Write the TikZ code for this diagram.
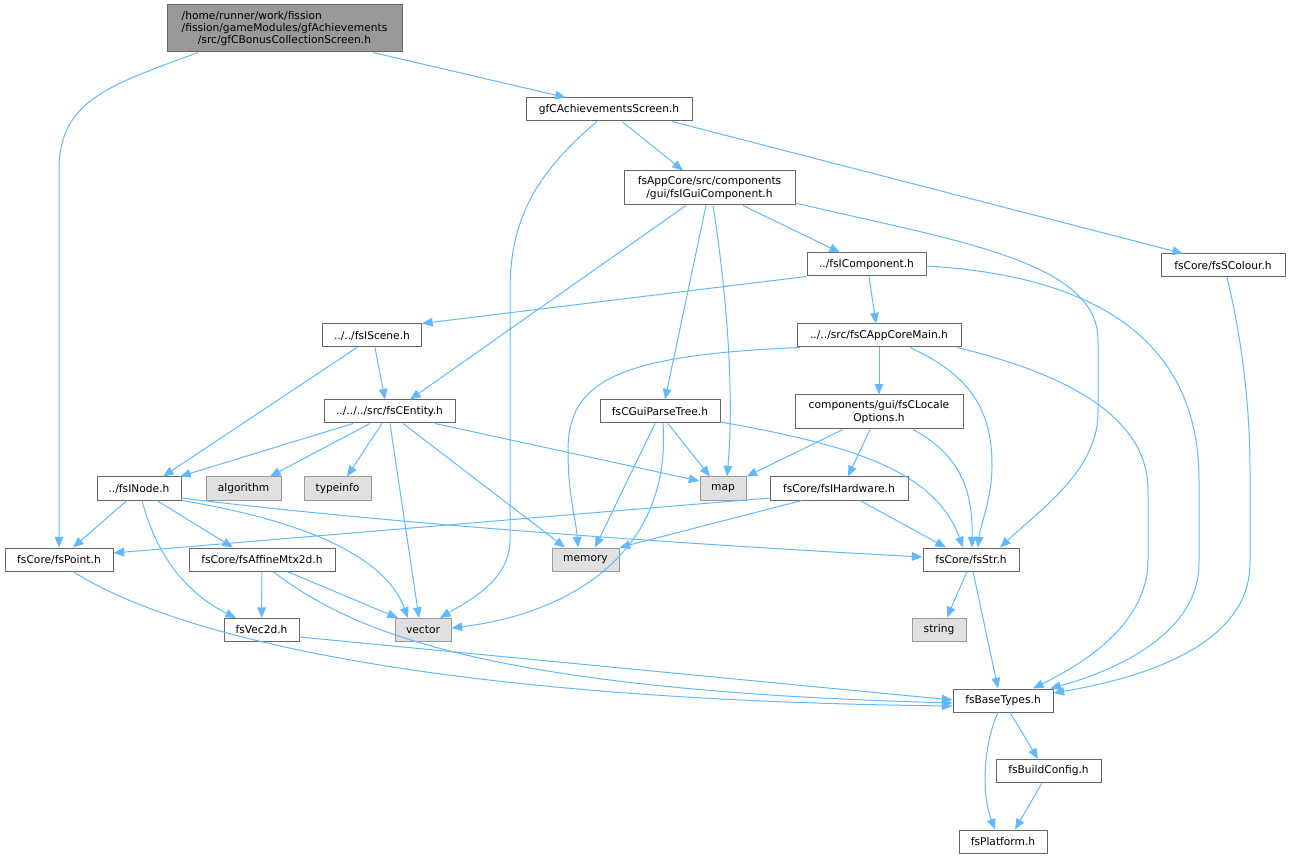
\documentclass[tikz,border=0pt]{standalone}
\usepackage{fontspec}
\setmainfont{DejaVu Sans}
\usetikzlibrary{arrows.meta}
\definecolor{edgec}{HTML}{63B8FF}
\definecolor{bordc}{HTML}{666666}
\definecolor{sysbord}{HTML}{999999}
\definecolor{sysfill}{HTML}{E0E0E0}
\definecolor{rootfill}{HTML}{999999}
\newlength\rootw
\begin{document}
\begin{tikzpicture}[x=0.75pt,y=-0.75pt,
  every node/.style={font=\fontsize{8}{9.2}\selectfont, inner sep=0pt, align=center},
  file/.style={draw=bordc, fill=white, line width=0.75pt, minimum height=17.25pt},
  twoline/.style={minimum height=25.5pt},
  sys/.style={draw=sysbord, fill=sysfill, line width=0.75pt, minimum height=17.25pt},
  rootbox/.style={draw=bordc, fill=rootfill, line width=0.75pt, minimum height=35.25pt},
  dep/.style={draw=edgec, line width=0.75pt, -{Triangle[length=8pt,width=6.5pt]}}]
\path[use as bounding box] (0,0) rectangle (1290,859);
% nodes
\node[rootbox, minimum width=176.25pt] (root) at (284.5,28.5) {\settowidth{\rootw}{/fission/gameModules/gfAchievements}\makebox[\rootw][l]{/home/runner/work/fission}\\/fission/gameModules/gfAchievements\\/src/gfCBonusCollectionScreen.h};
\node[file, minimum width=124.5pt] (gfach) at (609,109.5) {gfCAchievementsScreen.h};
\node[file, twoline, minimum width=128.25pt] (guicomp) at (709.5,188) {fsAppCore/src/components\\/gui/fsIGuiComponent.h};
\node[file, minimum width=89.25pt] (icomp) at (866.5,264.5) {../fsIComponent.h};
\node[file, minimum width=93pt] (scolour) at (1223,265.5) {fsCore/fsSColour.h};
\node[file, minimum width=74.25pt] (iscene) at (372,335.5) {../../fsIScene.h};
\node[file, minimum width=123pt] (appmain) at (879,335.5) {../../src/fsCAppCoreMain.h};
\node[file, minimum width=98.25pt] (entity) at (389.5,411.5) {../../../src/fsCEntity.h};
\node[file, minimum width=90pt] (parsetree) at (660,411.5) {fsCGuiParseTree.h};
\node[file, twoline, minimum width=126pt] (locale) at (879,412) {components/gui/fsCLocale\\Options.h};
\node[file, minimum width=63pt] (inode) at (139,488.5) {../fsINode.h};
\node[sys, minimum width=56.25pt] (algorithm) at (243.5,488.5) {algorithm};
\node[sys, minimum width=50.25pt] (typeinfo) at (337.5,488.5) {typeinfo};
\node[sys, minimum width=34.5pt] (map) at (723,488.5) {map};
\node[file, minimum width=103.5pt] (hardware) at (839,488.5) {fsCore/fsIHardware.h};
\node[file, minimum width=81pt] (fspoint) at (59,559.5) {fsCore/fsPoint.h};
\node[file, minimum width=109.5pt] (affine) at (262,559.5) {fsCore/fsAffineMtx2d.h};
\node[sys, minimum width=50.25pt] (memory) at (585.5,559.5) {memory};
\node[file, minimum width=72pt] (fsstr) at (971,559.5) {fsCore/fsStr.h};
\node[file, minimum width=56.25pt] (vec2d) at (261.5,630) {fsVec2d.h};
\node[sys, minimum width=42pt] (vector) at (423,630) {vector};
\node[sys, minimum width=40.5pt] (string) at (939,629.5) {string};
\node[file, minimum width=75pt] (basetypes) at (1003,700.5) {fsBaseTypes.h};
\node[file, minimum width=78.75pt] (buildconfig) at (1048.5,771) {fsBuildConfig.h};
\node[file, minimum width=66pt] (fsplatform) at (1003,841.5) {fsPlatform.h};
% edges from root
\draw[dep] (root.south -| 373,0) -- (gfach.north -| 566,0);
\draw[dep] (root.south -| 198,0) .. controls (110,85) and (59,100) .. (59,170) -- (fspoint.north -| 59,0);
% gfCAchievementsScreen
\draw[dep] (gfach.south -| 622,0) -- (guicomp.north -| 683,0);
\draw[dep] (gfach.south -| 597,0) .. controls (540,170) and (510,215) .. (510,290) -- (510,540) .. controls (510,580) and (470,600) .. (vector.north -| 440,0);
\draw[dep] (gfach.south -| 672,0) -- (scolour.north -| 1183,0);
% fsIGuiComponent
\draw[dep] (guicomp.south -| 686,0) -- (entity.north -| 410,0);
\draw[dep] (guicomp.south -| 706,0) -- (parsetree.north -| 665,0);
\draw[dep] (guicomp.south -| 713,0) .. controls (728,300) and (734,400) .. (map.north -| 727,0);
\draw[dep] (guicomp.south -| 743,0) -- (icomp.north -| 840,0);
\draw[dep] (guicomp.east |- 0,203) .. controls (950,240) and (1098,260) .. (1098,340) -- (1098,413) .. controls (1098,470) and (1040,510) .. (fsstr.north -| 1000,0);
% fsIComponent
\draw[dep] (icomp.south west) -- (iscene.north east);
\draw[dep] (icomp.south -| 869,0) -- (appmain.north -| 876,0);
\draw[dep] (icomp.east |- 0,266) .. controls (1080,275) and (1199,330) .. (1199,480) -- (1199,563) .. controls (1199,640) and (1100,675) .. (basetypes.north -| 1050,0);
% fsSColour
\draw[dep] (scolour.south -| 1227,0) .. controls (1240,330) and (1250,400) .. (1250,470) -- (1250,563) .. controls (1250,650) and (1130,680) .. (basetypes.east |- 0,693);
% fsIScene
\draw[dep] (iscene.south -| 357,0) -- (inode.north -| 163,0);
\draw[dep] (iscene.south -| 375,0) -- (entity.north -| 385,0);
% fsCAppCoreMain
\draw[dep] (appmain.south -| 800,0) .. controls (620,355) and (568,380) .. (568,450) .. controls (568,495) and (576,520) .. (memory.north -| 578,0);
\draw[dep] (appmain) -- (locale);
\draw[dep] (appmain.south -| 910,0) .. controls (970,375) and (992,410) .. (992,465) .. controls (992,500) and (980,525) .. (fsstr.north -| 978,0);
\draw[dep] (appmain.south -| 957,0) .. controls (1050,370) and (1148,410) .. (1148,490) -- (1148,560) .. controls (1148,630) and (1070,670) .. (basetypes.north -| 1033,0);
% fsCEntity
\draw[dep] (entity.south -| 353,0) -- (inode.north -| 180,0);
\draw[dep] (entity.south -| 370,0) -- (algorithm.north -| 270,0);
\draw[dep] (entity.south -| 382,0) -- (typeinfo.north -| 347,0);
\draw[dep] (entity.south -| 390,0) -- (vector.north -| 419,0);
\draw[dep] (entity.south -| 403,0) -- (memory.north -| 565,0);
\draw[dep] (entity.south -| 435,0) -- (map.west |- 0,481);
% fsCGuiParseTree
\draw[dep] (parsetree.south -| 668,0) -- (map.north -| 710,0);
\draw[dep] (parsetree.south -| 655,0) -- (memory.north -| 595,0);
\draw[dep] (parsetree.south -| 663,0) .. controls (672,560) and (560,615) .. (vector.east |- 0,628);
\draw[dep] (parsetree.east |- 0,422) .. controls (850,445) and (935,470) .. (fsstr.north -| 963,0);
% fsCLocaleOptions
\draw[dep] (locale.south -| 843,0) -- (map.north east);
\draw[dep] (locale.south -| 870,0) -- (hardware.north -| 848,0);
\draw[dep] (locale.south -| 913,0) .. controls (960,455) and (973,490) .. (fsstr.north -| 972,0);
% fsINode
\draw[dep] (inode.south -| 127,0) -- (fspoint.north -| 73,0);
\draw[dep] (inode.south -| 157,0) -- (affine.north -| 233,0);
\draw[dep] (inode.south -| 142,0) .. controls (160,570) and (200,600) .. (vec2d.north -| 236,0);
\draw[dep] (inode.south east) .. controls (300,520) and (385,555) .. (vector.north -| 408,0);
\draw[dep] (inode.east |- 0,498) .. controls (400,525) and (700,545) .. (fsstr.west |- 0,557);
% fsIHardware
\draw[dep] (hardware.west |- 0,498) -- (fspoint.east |- 0,553);
\draw[dep] (hardware.south -| 802,0) -- (memory.north east);
\draw[dep] (hardware.south -| 860,0) -- (fsstr.north -| 946,0);
% fsPoint, fsAffineMtx2d, fsVec2d
\draw[dep] (fspoint.south -| 73,0) .. controls (180,640) and (450,700) .. (basetypes.west |- 0,706);
\draw[dep] (affine) -- (vec2d);
\draw[dep] (affine.south -| 287,0) -- (vector.north -| 398,0);
\draw[dep] (affine.south -| 273,0) .. controls (350,630) and (480,690) .. (basetypes.west |- 0,703);
\draw[dep] (vec2d.east |- 0,637) -- (basetypes.west |- 0,700);
% fsStr
\draw[dep] (fsstr.south -| 967,0) -- (string.north -| 947,0);
\draw[dep] (fsstr.south -| 973,0) -- (basetypes.north -| 998,0);
% fsBaseTypes
\draw[dep] (basetypes.south -| 1010,0) -- (buildconfig.north -| 1038,0);
\draw[dep] (basetypes.south -| 998,0) .. controls (985,740) and (980,790) .. (fsplatform.north -| 995,0);
\draw[dep] (buildconfig.south -| 1042,0) -- (fsplatform.north -| 1015,0);
\end{tikzpicture}
\end{document}
